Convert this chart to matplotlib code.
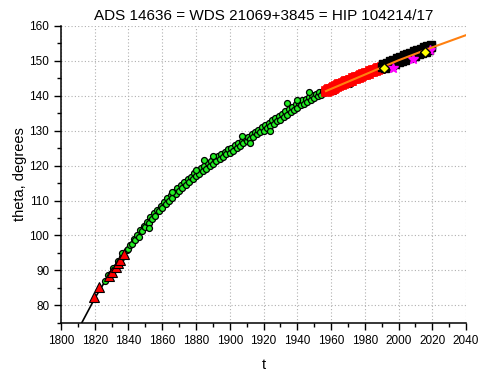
import matplotlib
matplotlib.use("Agg")
import matplotlib.pyplot as plt
from matplotlib.ticker import MultipleLocator

plt.rcParams['font.family'] = ['Liberation Sans', 'DejaVu Sans']

# visual measurements, green circles
t_green = [1826, 1828, 1830, 1831, 1833, 1834, 1836, 1837, 1839, 1840, 1841, 1842, 1843, 1844,
           1845, 1846, 1847, 1848, 1849, 1850, 1851, 1852, 1853, 1854, 1855, 1856, 1857, 1858,
           1859, 1860, 1861, 1862, 1863, 1864, 1865, 1866, 1867, 1868, 1869, 1870, 1871, 1872,
           1873, 1874, 1875, 1876, 1877, 1878, 1879, 1880, 1881, 1882, 1883, 1884, 1885, 1886,
           1887, 1888, 1889, 1890, 1891, 1892, 1893, 1894, 1895, 1896, 1897, 1898, 1899, 1900,
           1901, 1902, 1903, 1904, 1905, 1906, 1907, 1908, 1909, 1910, 1911, 1912, 1913, 1914,
           1915, 1916, 1917, 1918, 1919, 1920, 1921, 1922, 1923, 1924, 1925, 1926, 1927, 1928,
           1929, 1930, 1931, 1932, 1933, 1934, 1935, 1936, 1937, 1938, 1939, 1940, 1941, 1942,
           1943, 1944, 1945, 1946, 1947, 1948, 1949, 1950, 1951, 1952, 1953, 1954, 1955, 1956,
           1957, 1885, 1907, 1924, 1934, 1947, 1880, 1866, 1890, 1912, 1940, 1852, 1836,
           1962, 1968, 1975, 1983, 1988, 1971]
th_green = [86.9, 88.6, 89.2, 90.8, 91.2, 92.6, 93.9, 94.2, 95.9, 96.0, 97.3, 97.5, 98.9, 98.6,
            100.1, 99.6, 101.5, 101.2, 102.6, 102.4, 103.9, 103.6, 105.2, 104.8, 106.3, 105.7, 107.4, 106.9,
            108.5, 107.9, 109.5, 109.0, 110.6, 109.9, 111.6, 110.8, 112.5, 111.9, 113.6, 112.7, 114.3, 113.6,
            115.2, 114.4, 116.1, 115.2, 116.7, 116.2, 117.9, 116.9, 118.4, 117.7, 119.2, 118.4, 119.9, 119.1,
            120.6, 119.8, 121.3, 120.5, 121.9, 121.2, 122.6, 121.8, 123.3, 122.5, 123.8, 123.2, 124.6, 123.6,
            125.0, 124.3, 125.8, 124.9, 126.4, 125.7, 127.1, 126.4, 127.9, 126.9, 128.3, 127.6, 129.0, 128.2,
            129.7, 128.9, 130.3, 129.6, 131.1, 130.0, 131.6, 130.8, 132.2, 131.4, 132.9, 131.9, 133.5, 132.7,
            134.3, 133.1, 134.8, 133.9, 135.5, 134.5, 136.2, 135.2, 136.8, 136.0, 137.6, 136.5, 138.0, 137.2,
            138.6, 137.6, 139.1, 138.2, 139.5, 138.7, 140.1, 139.2, 140.4, 139.8, 140.9, 140.3, 141.4, 140.8,
            141.8, 121.5, 128.5, 129.8, 137.8, 141.0, 118.8, 112.3, 122.6, 126.5, 138.6, 102.2, 95.1,
            141.3, 144.6, 144.7, 147.6, 146.9, 143.4]

# early measurements, red triangles
t_tri = [1819.6, 1822.5, 1828.6, 1830.5, 1832.4, 1834.0, 1835.0, 1837.3]
th_tri = [82.4, 85.2, 88.5, 89.5, 91.1, 92.1, 93.0, 94.8]

# red band 1957-1990
t_red = [1957, 1958, 1959, 1960, 1961, 1962, 1963, 1964, 1965, 1966, 1967, 1968, 1969, 1970,
         1971, 1972, 1973, 1974, 1975, 1976, 1977, 1978, 1979, 1980, 1981, 1982, 1983, 1984,
         1985, 1986, 1987, 1988, 1989, 1990]
th_red = [141.3, 141.5, 141.9, 142.0, 142.3, 142.4, 142.8, 142.9, 143.2, 143.3, 143.7, 143.8, 144.1, 144.1,
          144.5, 144.6, 144.9, 145.0, 145.3, 145.4, 145.7, 145.8, 146.1, 146.2, 146.5, 146.6, 146.9, 147.0,
          147.3, 147.4, 147.7, 147.8, 148.0, 148.2]

# speckle, black band 1990-2019
t_blk = [1990, 1991, 1992, 1993, 1994, 1995, 1996, 1997, 1998, 1999, 2000, 2001, 2002, 2003, 2004,
         2005, 2006, 2007, 2008, 2009, 2010, 2011, 2012, 2013, 2014, 2015, 2016, 2017, 2018, 2019,
         1991, 1993, 1995, 1997, 1999, 2001, 2003, 2005, 2007, 2009, 2011, 2013, 2015, 2017, 2019,
         1992, 1994, 1996, 1998, 2000, 2002, 2004, 2006, 2008, 2010, 2012, 2014, 2016, 2018]
th_blk = [148.1, 148.4, 148.6, 148.7, 149.0, 149.2, 149.5, 149.6, 149.8, 150.0, 150.2, 150.4, 150.6, 150.8, 151.0,
          151.2, 151.4, 151.6, 151.8, 152.0, 152.1, 152.3, 152.5, 152.7, 152.9, 153.1, 153.2, 153.4, 153.6, 153.8,
          149.1, 149.4, 149.9, 150.3, 150.7, 151.1, 151.5, 151.9, 152.3, 152.7, 153.0, 153.4, 153.8, 154.1, 154.4,
          147.9, 148.3, 148.8, 149.1, 149.5, 149.9, 150.3, 150.7, 151.1, 151.4, 151.8, 152.2, 152.5, 152.9]

t_star = [1996.5, 2008.8, 2018.7]
th_star = [147.9, 150.6, 153.1]

t_diam = [1991.25, 2015.5]
th_diam = [148.0, 152.6]

# orbit fit (black) and recent fit (orange)
t_fit = [1812.3, 1820, 1830, 1840, 1850, 1860, 1870, 1880, 1890, 1900, 1910, 1920, 1930, 1940,
         1950, 1960, 1970, 1980, 1990, 2000, 2010, 2020]
th_fit = [75.0, 82.0, 90.0, 96.4, 102.8, 108.4, 113.2, 117.4, 121.0, 124.2, 127.4, 130.5, 133.6, 136.8,
          139.6, 142.1, 144.2, 146.2, 148.2, 150.2, 152.2, 154.1]
t_orange = [1957, 1980, 2000, 2020, 2040]
th_orange = [141.3, 146.0, 150.1, 153.8, 157.3]

fig = plt.figure(figsize=(4.8, 3.72), dpi=100)
ax = fig.add_axes([0.127, 0.132, 0.844, 0.799])

ax.plot(t_fit, th_fit, color='black', lw=1.2, zorder=2)
ax.plot(t_green, th_green, 'o', ms=4.3, mfc='#22ee22', mec='black', mew=0.9, ls='none', zorder=3)
ax.plot(t_tri, th_tri, '^', ms=6.5, mfc='red', mec='black', mew=0.8, ls='none', zorder=4)
ax.plot(t_red, th_red, 's', ms=7, mfc='red', mec='red', mew=0.5, ls='none', zorder=4)
ax.plot(t_blk, th_blk, 's', ms=6, mfc='black', mec='black', ls='none', zorder=4)
ax.plot(t_star, th_star, '*', ms=7, mfc='magenta', mec='magenta', ls='none', zorder=5)
ax.plot(t_orange, th_orange, color='#ff8010', lw=1.5, zorder=6)
ax.plot(t_diam, th_diam, 'D', ms=5, mfc='yellow', mec='black', mew=1.0, ls='none', zorder=7)

ax.set_xlim(1800, 2040)
ax.set_ylim(75, 160)
ax.xaxis.set_major_locator(MultipleLocator(20))
ax.xaxis.set_minor_locator(MultipleLocator(10))
ax.yaxis.set_major_locator(MultipleLocator(10))
ax.yaxis.set_minor_locator(MultipleLocator(5))
ax.tick_params(which='major', direction='out', length=5, width=1, labelsize=8.5)
ax.tick_params(which='minor', direction='out', length=3, width=1)
ax.grid(True, which='major', ls=(0, (1, 2)), color='#b0b0b0', lw=0.8)
for s in ['top', 'right']:
    ax.spines[s].set_visible(False)
for s in ['left', 'bottom']:
    ax.spines[s].set_linewidth(1.1)

ax.set_xlabel('t', fontsize=10.5, labelpad=8)
ax.set_ylabel('theta, degrees', fontsize=10.5, labelpad=2)
ax.set_title('ADS 14636 = WDS 21069+3845 = HIP 104214/17', fontsize=11, pad=4)

fig.savefig('out.png', dpi=100)
